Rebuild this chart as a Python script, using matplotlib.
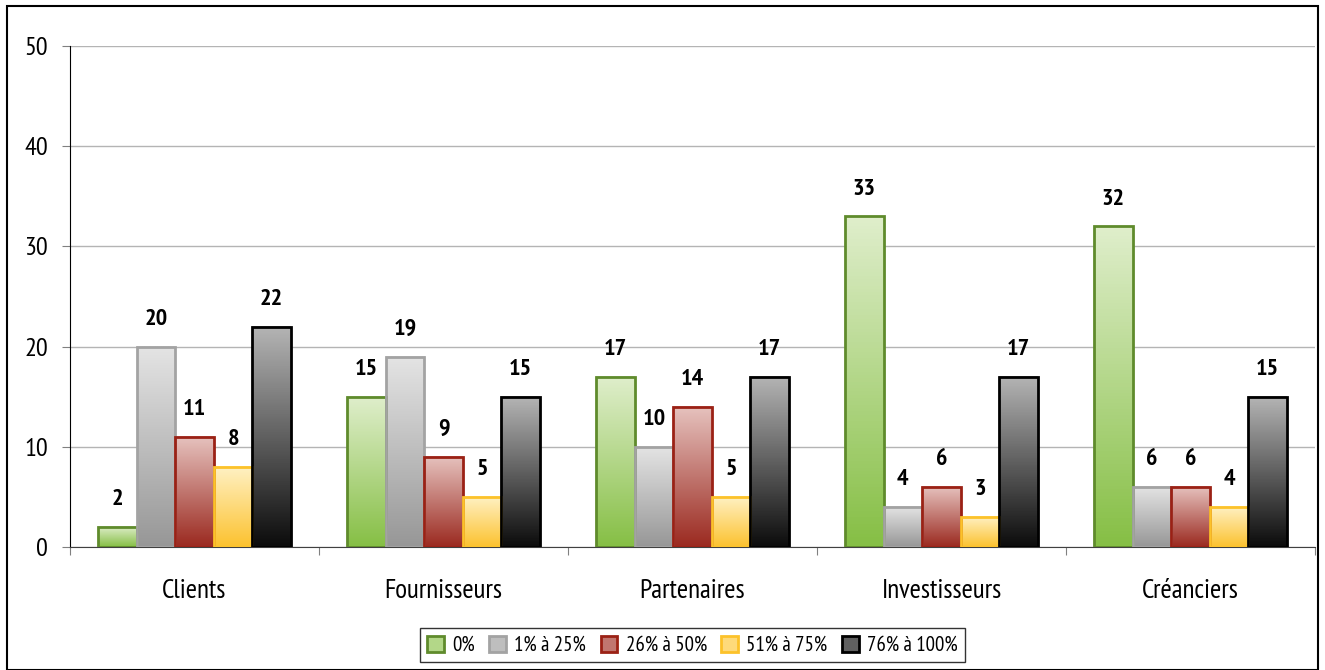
import numpy as np
import matplotlib
matplotlib.use("Agg")
import matplotlib.pyplot as plt
from matplotlib.patches import Patch, Rectangle
from matplotlib.colors import LinearSegmentedColormap

plt.rcParams['font.family'] = ['PT Sans Narrow', 'DejaVu Sans']

# data
categories = ['Clients', 'Fournisseurs', 'Partenaires', 'Investisseurs', 'Créanciers']
series = ['0%', '1% à 25%', '26% à 50%', '51% à 75%', '76% à 100%']
v_0 = [2, 15, 17, 33, 32]
v_1_25 = [20, 19, 10, 4, 6]
v_26_50 = [11, 9, 14, 6, 6]
v_51_75 = [8, 5, 5, 3, 4]
v_76_100 = [22, 15, 17, 17, 15]
values = [v_0, v_1_25, v_26_50, v_51_75, v_76_100]

# styles: (top colour, bottom colour, edge colour)
styles = [
    ('#dfeecb', '#86bf45', '#5f8b2c'),
    ('#e4e4e4', '#979797', '#a3a3a3'),
    ('#e6c2be', '#9b2a20', '#9b2115'),
    ('#fff1c4', '#fcc22f', '#fcc22a'),
    ('#b4b4b4', '#0c0c0c', '#000000'),
]

fig = plt.figure(figsize=(13.25, 6.7), dpi=100)
ax = fig.add_axes([70 / 1325, 1 - 547 / 670, (1315 - 70) / 1325, (547 - 46) / 670])

x = np.arange(len(categories))
w = 0.155
for i, (vals, (top, bot, edge)) in enumerate(zip(values, styles)):
    cmap = LinearSegmentedColormap.from_list('g%d' % i, [bot, top])
    bars = ax.bar(x + (i - 2) * w, vals, w, facecolor='none', edgecolor=edge,
                  linewidth=2, zorder=4, label=series[i])
    for b, v in zip(bars, vals):
        x0 = b.get_x()
        grad = np.linspace(0, 1, 100).reshape(-1, 1)
        ax.imshow(grad, cmap=cmap, origin='lower', aspect='auto',
                  extent=(x0, x0 + w, 0, v), zorder=3)
        ax.annotate(str(v), (x0 + w / 2, v), xytext=(0, 12), textcoords='offset points',
                    ha='center', va='bottom', fontsize=17.5, fontweight='bold')

ax.set_xlim(-0.5, len(categories) - 0.5)
ax.set_ylim(0, 50)
ax.set_yticks([0, 10, 20, 30, 40, 50])
ax.yaxis.grid(True, color='#b4b4b4', linewidth=1)
ax.set_axisbelow(True)

ax.set_xticks(np.arange(len(categories) + 1) - 0.5)
ax.set_xticklabels([])
ax.set_xticks(x, minor=True)
ax.set_xticklabels(categories, minor=True, fontsize=19.5)
ax.tick_params(axis='x', which='minor', length=0, pad=23)
ax.tick_params(axis='x', which='major', length=6, color='#808080')
ax.tick_params(axis='y', length=6, color='#808080', pad=10, labelsize=19)

for s in ['top', 'right']:
    ax.spines[s].set_visible(False)
ax.spines['left'].set_color('black')
ax.spines['bottom'].set_color('#404040')

handles = [Patch(facecolor=LinearSegmentedColormap.from_list('h', [b, t])(0.5), edgecolor=e, linewidth=2)
           for t, b, e in styles]
leg = fig.legend(handles, series, loc='lower center', bbox_to_anchor=(0.5226, -0.004), ncol=5,
                 fontsize=15, frameon=True, fancybox=False, edgecolor='black',
                 handlelength=0.8, handleheight=0.8, handletextpad=0.4, columnspacing=0.7,
                 borderpad=0.35)
leg.get_frame().set_linewidth(1)

# outer frame
fig.patches.append(Rectangle((7 / 1325, 0.5 / 670), (1318 - 7) / 1325, (669.5 - 6) / 670,
                             transform=fig.transFigure, fill=False, edgecolor='black', linewidth=1.5))

fig.savefig('out.png', dpi=100)
